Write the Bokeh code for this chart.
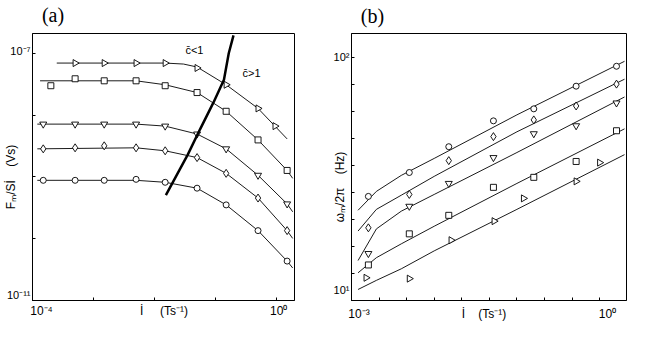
import math
from bokeh.plotting import figure
from bokeh.layouts import row
from bokeh.models import FixedTicker, Label, Range1d, LogAxis
from bokeh.embed import file_html
from bokeh.resources import INLINE

# ---------------- Panel (a): F_M / S·İ  (Vs)  vs  İ (T s^-1) ----------------
a_x = [1.5e-4, 5e-4, 1.5e-3, 5e-3, 1.5e-2, 5e-2, 0.15, 0.5, 1.5]
a_tri_x = [5e-4, 1.5e-3, 5e-3, 1.5e-2, 5e-2, 0.15, 0.5, 0.95]
a_tri_y = [6.93e-8, 6.93e-8, 6.93e-8, 6.93e-8, 5.77e-8, 3.09e-8, 1.28e-8, 6.62e-9]
a_sq_x = [2.0e-4, 5e-4, 1.5e-3, 5e-3, 1.5e-2, 5e-2, 0.15, 0.5, 1.5]
a_sq_y = [2.98e-8, 3.86e-8, 3.58e-8, 3.58e-8, 2.98e-8, 2.31e-8, 1.15e-8, 3.96e-9, 1.27e-9]
a_dn_y = [7.13e-9, 7.13e-9, 7.13e-9, 7.13e-9, 6.62e-9, 4.93e-9, 2.84e-9, 1.06e-9, 3.65e-10]
a_di_y = [2.84e-9, 2.95e-9, 3.18e-9, 2.95e-9, 2.64e-9, 2.05e-9, 1.14e-9, 4.54e-10, 1.35e-10]
a_ci_y = [8.79e-10, 8.79e-10, 8.79e-10, 9.12e-10, 8.17e-10, 6.56e-10, 3.52e-10, 1.35e-10, 4.34e-11]

# fitted curves (a)
a_tri_fit_x = [2.5e-4, 5e-3, 1.5e-2, 3e-2, 5e-2, 0.15, 0.5, 1.5]
a_tri_fit_y = [6.93e-8, 6.93e-8, 6.93e-8, 6.68e-8, 5.98e-8, 3.09e-8, 1.28e-8, 4.11e-9]
a_sq_fit_x = [1.33e-4, 1.5e-3, 5e-3, 1.5e-2, 5e-2, 0.15, 0.5, 1.5, 1.85]
a_sq_fit_y = [3.58e-8, 3.58e-8, 3.58e-8, 3.09e-8, 2.31e-8, 1.15e-8, 3.96e-9, 1.27e-9, 9.46e-10]
a_fit_x = [1.2e-4, 5e-3, 1.5e-2, 5e-2, 0.15, 0.5, 1.5, 1.85]
a_dn_fit_y = [7.13e-9, 7.13e-9, 6.62e-9, 4.93e-9, 2.84e-9, 1.06e-9, 3.65e-10, 2.72e-10]
a_di_fit_y = [2.84e-9, 2.95e-9, 2.64e-9, 2.05e-9, 1.14e-9, 4.54e-10, 1.35e-10, 1.01e-10]
a_ci_fit_y = [8.79e-10, 8.79e-10, 8.17e-10, 6.56e-10, 3.52e-10, 1.35e-10, 4.34e-11, 3.36e-11]

# boundary curve c = 1
a_bnd_x = [1.54e-2, 3.52e-2, 5.62e-2, 9.3e-2, 0.138, 0.1655, 0.198]
a_bnd_y = [5.07e-10, 2.29e-9, 5.93e-9, 1.6e-8, 3.72e-8, 1.0e-7, 1.94e-7]

a_xticks = [1e-4, 1e-3, 1e-2, 1e-1, 1.0]
a_xlabels = ["10\u207b\u2074", "10\u2070"]
a_yticks = [1e-11, 1e-10, 1e-9, 1e-8, 1e-7]
a_ylabels = ["10\u207b\u00b9\u00b9", "10\u207b\u2077"]

# ---------------- Panel (b): ω_M / 2π (Hz)  vs  İ (T s^-1) ----------------
b_x = [1.6e-3, 5.0e-3, 1.5e-2, 5.2e-2, 0.16, 0.52, 1.6]
b_ci = [26.8, 33.6, 42.9, 54.8, 61.4, 76.1, 91.9]
b_di = [19.9, 27.3, 37.6, 47.2, 55.3, 63.1, 77.6]
b_dn = [15.6, 24.4, 30.3, 38.7, 48.5, 52.3, 64.9]
b_sq = [14.0, 18.8, 22.4, 29.2, 32.1, 37.3, 49.9]
b_rt_x = [1.5e-3, 5.0e-3, 1.6e-2, 5.3e-2, 0.12, 0.52, 1.0]
b_rt = [12.4, 12.3, 17.7, 21.2, 26.3, 30.9, 36.9]

b_fit_x = [1.2e-3, 2e-3, 4e-3, 1e-2, 1e-1, 2.0]
b_ci_fit = [23.5, 28.1, 32.7, 38.4, 58.0, 96.3]
b_di_fit = [19.3, 23.7, 27.1, 32.4, 49.4, 81.3]
b_dn_fit = [14.6, 19.7, 23.3, 27.3, 40.6, 68.7]
b_sq_fit = [13.0, 15.0, 17.1, 20.2, 30.3, 50.8]
b_rt_fit = [11.1, 12.1, 13.5, 16.0, 23.7, 39.8]

b_xticks = [10 ** (-3 + k / 3) for k in range(10)]
b_xlabels = ["10\u207b\u00b3", "10\u2070"]
b_yticks = [10 ** (1 + k / 9) for k in range(10)]
b_ylabels = ["10\u00b9", "10\u00b2"]

FONT = "Liberation Sans"
NB = "\u00a0"
XTITLE = "\u0130{}(Ts\u207b\u00b9)"


def make_fig(width, height, xr, yr, bl, br, bt, bb):
    p = figure(width=width, height=height, x_axis_type="log", y_axis_type="log",
               x_range=Range1d(*xr), y_range=Range1d(*yr), title=None,
               output_backend="svg", toolbar_location=None,
               min_border_left=bl, min_border_right=br,
               min_border_top=bt, min_border_bottom=bb)
    p.grid.visible = False
    p.outline_line_color = "black"
    p.outline_line_width = 1
    p.background_fill_color = "white"
    p.border_fill_color = "white"
    return p


def base_axis(ax, size, standoff):
    ax.axis_line_color = "black"
    ax.major_tick_in = 0
    ax.major_tick_out = 0
    ax.minor_tick_in = 3
    ax.minor_tick_out = 0
    ax.minor_tick_line_color = "black"
    ax.major_label_text_font = FONT
    ax.major_label_text_font_size = size
    ax.major_label_text_color = "black"
    ax.major_label_standoff = standoff


def labelled_axis(ax, ticks, label_pos, labels, size, standoff):
    # tick marks are drawn as minor ticks; labels (centred on label_pos) as majors
    ax.ticker = FixedTicker(ticks=label_pos, minor_ticks=ticks)
    ax.major_label_overrides = dict(zip(label_pos, labels))
    base_axis(ax, size, standoff)


def y_title(ax, title, standoff):
    ax.axis_label = title
    ax.axis_label_text_font = FONT
    ax.axis_label_text_font_size = "12px"
    ax.axis_label_text_font_style = "normal"
    ax.axis_label_text_color = "black"
    ax.axis_label_standoff = standoff


def series(p, xf, yf, xm, ym, marker, size, angle=0.0):
    p.line(xf, yf, line_color="black", line_width=0.9)
    p.scatter(xm, ym, marker=marker, size=size, angle=angle,
              line_color="black", fill_color="white", line_width=0.9)


def panel_title(p, xpos, text, standoff):
    ax = LogAxis(ticker=FixedTicker(ticks=[xpos]),
                 major_label_overrides={xpos: text},
                 axis_line_color=None, major_tick_line_color=None,
                 minor_tick_line_color=None, major_tick_out=0, major_tick_in=0,
                 minor_tick_out=0, minor_tick_in=0,
                 major_label_text_font="Liberation Serif",
                 major_label_text_font_size="20px", major_label_text_color="black",
                 major_label_standoff=standoff)
    p.add_layout(ax, "above")


# ----- figure (a)
a_xr = (1e-4, 10 ** 0.297)
a_yr = (1e-11, 10 ** -6.681)
pa = make_fig(322, 325, a_xr, a_yr, 19, 28, 32, 22)
series(pa, a_tri_fit_x, a_tri_fit_y, a_tri_x, a_tri_y, "triangle", 7, -math.pi / 2)
series(pa, a_sq_fit_x, a_sq_fit_y, a_sq_x, a_sq_y, "square", 6)
series(pa, a_fit_x, a_dn_fit_y, a_x, a_dn_y, "inverted_triangle", 7)
series(pa, a_fit_x, a_di_fit_y, a_x, a_di_y, "diamond", 8)
series(pa, a_fit_x, a_ci_fit_y, a_x, a_ci_y, "circle", 6)
pa.line(a_bnd_x, a_bnd_y, line_color="black", line_width=2.5)
for t, lx, ly in (("c\u0304<1", 10 ** -1.344, 10 ** -6.952),
                  ("c\u0304>1", 10 ** -0.406, 10 ** -7.319)):
    pa.add_layout(Label(x=lx, y=ly, text=t, text_font=FONT, text_font_size="11px",
                        text_align="center", text_baseline="middle",
                        text_color="black"))
labelled_axis(pa.xaxis[0], a_xticks,
              [10 ** -3.852, 10 ** -1.844, 10 ** 0.039],
              [a_xlabels[0], XTITLE.format(NB * 5), a_xlabels[1]], "12px", 3)
labelled_axis(pa.yaxis[0], a_yticks, [10 ** -10.905, 10 ** -6.97],
              a_ylabels, "11px", 2)
y_title(pa.yaxis[0], "F\u2098/S\u0130" + NB * 4 + "(Vs)" + NB * 6, -14)
panel_title(pa, 10 ** -3.664, "(a)", 8)

# ----- figure (b)
b_xr = (1e-3, 10 ** 0.325)
b_yr = (10.0, 10 ** 2.098)
pb = make_fig(314, 325, b_xr, b_yr, 29, 10, 31, 25)
series(pb, b_fit_x, b_ci_fit, b_x, b_ci, "circle", 6)
series(pb, b_fit_x, b_di_fit, b_x, b_di, "diamond", 8)
series(pb, b_fit_x, b_dn_fit, b_x, b_dn, "inverted_triangle", 7)
series(pb, b_fit_x, b_sq_fit, b_x, b_sq, "square", 6)
series(pb, b_fit_x, b_rt_fit, b_rt_x, b_rt, "triangle", 7, -math.pi / 2)
labelled_axis(pb.xaxis[0], b_xticks,
              [10 ** -2.909, 10 ** -1.398, 10 ** 0.0955],
              [b_xlabels[0], XTITLE.format(NB * 4), b_xlabels[1]], "12px", 6)
labelled_axis(pb.yaxis[0], b_yticks, [10 ** 1.045, 100.0], b_ylabels, "11px", 2)
y_title(pb.yaxis[0], "\u03c9\u2098/2\u03c0" + NB * 4 + "(Hz)" + NB * 12, -16)
panel_title(pb, 10 ** -2.746, "(b)", 7)

layout = row(pa, pb)
open("out.html", "w").write(file_html(layout, INLINE))
